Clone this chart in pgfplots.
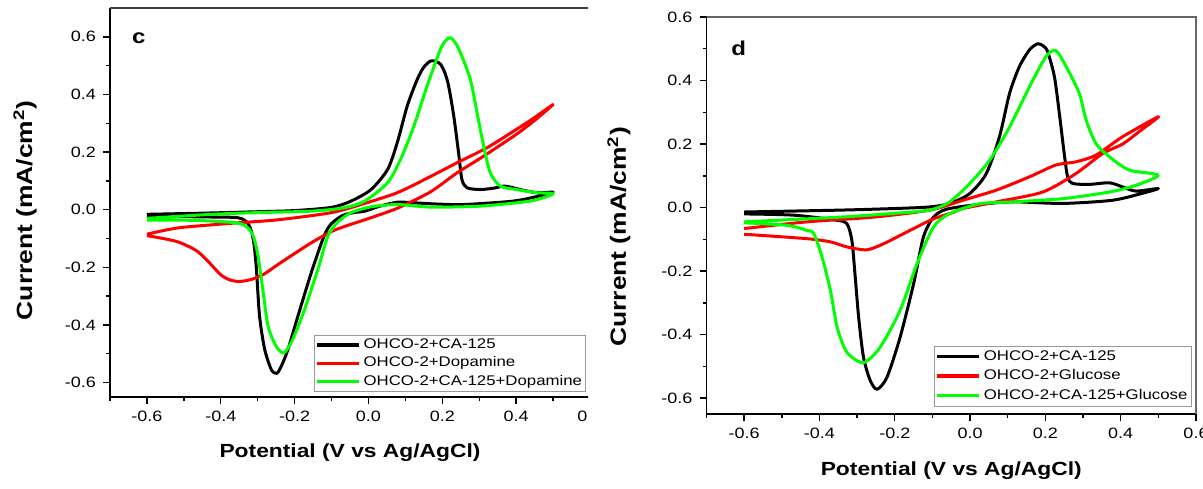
\documentclass[border=0pt]{standalone}
\usepackage{fontspec}
\setmainfont{Liberation Sans}[FakeStretch=1.2]
\usepackage{pgfplots}
\pgfplotsset{compat=1.18}

\definecolor{cvred}{RGB}{255,0,0}
\definecolor{cvgreen}{RGB}{0,255,0}

\pgfplotsset{
  cv/.style={
    scale only axis,
    xmin=-0.7, xmax=0.6, ymin=-0.65,
    axis x line*=bottom, axis y line*=left,
    axis line style={line width=0.9pt},
    tick align=outside,
    tick style={black, line width=0.7pt},
    major tick length=3.5pt, minor tick length=2pt,
    xtick={-0.6,-0.4,-0.2,0,0.2,0.4,0.6},
    xticklabels={-0.6,-0.4,-0.2,0.0,0.2,0.4,0.6},
    minor xtick={-0.7,-0.5,-0.3,-0.1,0.1,0.3,0.5},
    ytick={-0.6,-0.4,-0.2,0,0.2,0.4,0.6},
    yticklabels={-0.6,-0.4,-0.2,0.0,0.2,0.4,0.6},
    minor ytick={-0.5,-0.3,-0.1,0.1,0.3,0.5},
    ticklabel style={font=\fontsize{7.5}{9}\selectfont},
    xlabel={Potential (V vs Ag/AgCl)},
    ylabel={Current (mA/cm\textsuperscript{2})},
    xlabel style={font=\bfseries\fontsize{9.5}{11}\selectfont, at={(axis description cs:0.5,-0.143)}, anchor=center},
    legend style={at={(axis description cs:0.992,0.012)}, anchor=south east,
      draw=gray!80, line width=0.5pt, font=\fontsize{7}{8}\selectfont,
      inner sep=0.5pt, nodes={inner sep=1.3pt}},
    legend cell align=left,
    legend image code/.code={\draw[#1, line width=1.7pt] (-1pt,0pt) -- (20pt,0pt);},
    every axis plot/.append style={line width=1.5pt, line join=round, smooth, tension=0.45},
  }
}

\begin{document}
\begin{tikzpicture}
\useasboundingbox (0,0) rectangle (601.5pt,244pt);

% ---- panel c ----
\begin{scope}
\clip (0,0) rectangle (294pt,244pt);
\begin{axis}[cv,
  at={(55pt,45.5pt)}, anchor=south west,
  width=240pt, height=194.5pt,
  ymax=0.7,
  ylabel style={font=\bfseries\fontsize{11}{13}\selectfont, at={(axis description cs:-0.177,0.48)}, anchor=center},
]
\addplot[black] coordinates {
(-0.6,-0.016) (-0.45,-0.012) (-0.3,-0.007) (-0.2,-0.003) (-0.1,0.008) (-0.047,0.03)
(0.007,0.07) (0.052,0.14) (0.078,0.233) (0.105,0.36) (0.132,0.452) (0.15,0.495)
(0.168,0.516) (0.182,0.515) (0.195,0.505) (0.207,0.475) (0.217,0.43) (0.231,0.325)
(0.244,0.198) (0.253,0.105) (0.267,0.076) (0.303,0.07) (0.34,0.075) (0.366,0.082)
(0.39,0.077) (0.411,0.07) (0.456,0.059) (0.5,0.061)
(0.47,0.05) (0.393,0.03) (0.258,0.018) (0.18,0.02) (0.123,0.024) (0.078,0.026)
(0.03,0.012) (-0.01,-0.005) (-0.04,-0.01) (-0.07,-0.02) (-0.1,-0.048) (-0.12,-0.09)
(-0.155,-0.219) (-0.191,-0.369) (-0.218,-0.485) (-0.235,-0.54) (-0.248,-0.568)
(-0.263,-0.555) (-0.281,-0.485) (-0.295,-0.369) (-0.304,-0.196) (-0.312,-0.103)
(-0.325,-0.05) (-0.353,-0.028) (-0.45,-0.025) (-0.6,-0.022)
};
\addlegendentry{OHCO-2+CA-125}
\addplot[cvred] coordinates {
(-0.6,-0.085) (-0.515,-0.063) (-0.38,-0.048) (-0.245,-0.035) (-0.1,-0.01) (-0.01,0.022)
(0.078,0.059) (0.16,0.11) (0.24,0.163) (0.321,0.215) (0.401,0.279) (0.45,0.32) (0.5,0.365)
(0.45,0.31) (0.401,0.262) (0.312,0.186) (0.24,0.128) (0.168,0.062) (0.078,0.005)
(-0.01,-0.035) (-0.06,-0.056) (-0.101,-0.076) (-0.155,-0.115) (-0.2,-0.152) (-0.245,-0.19)
(-0.285,-0.225) (-0.32,-0.243) (-0.35,-0.249) (-0.375,-0.244) (-0.4,-0.226)
(-0.43,-0.185) (-0.465,-0.143) (-0.52,-0.11) (-0.6,-0.09)
};
\addlegendentry{OHCO-2+Dopamine}
\addplot[cvgreen] coordinates {
(-0.6,-0.03) (-0.425,-0.016) (-0.3,-0.01) (-0.155,-0.005) (-0.066,0.007) (-0.01,0.03)
(0.052,0.094) (0.087,0.175) (0.123,0.29) (0.159,0.43) (0.195,0.557) (0.21,0.588)
(0.222,0.597) (0.235,0.58) (0.249,0.545) (0.276,0.452) (0.294,0.337) (0.312,0.221)
(0.33,0.128) (0.357,0.082) (0.401,0.07) (0.456,0.059) (0.5,0.055)
(0.438,0.03) (0.303,0.0125) (0.168,0.009) (0.078,0.018) (0.007,0.01) (-0.047,-0.01)
(-0.083,-0.043) (-0.11,-0.092) (-0.137,-0.207) (-0.173,-0.346) (-0.205,-0.45)
(-0.229,-0.497) (-0.25,-0.474) (-0.272,-0.404) (-0.285,-0.288) (-0.299,-0.161)
(-0.312,-0.092) (-0.33,-0.059) (-0.362,-0.045) (-0.47,-0.037) (-0.6,-0.036)
};
\addlegendentry{OHCO-2+CA-125+Dopamine}
\node[font=\bfseries\fontsize{10}{12}\selectfont] at (axis description cs:0.06,0.923) {c};
\end{axis}
\draw[black!75, line width=0.6pt] (current axis.north west) -- (current axis.north east);
\end{scope}

% ---- panel d ----
\begin{scope}
\clip (300.75pt,0) rectangle (601.5pt,244pt);
\begin{axis}[cv,
  at={(353.25pt,37pt)}, anchor=south west,
  width=244.75pt, height=198.5pt,
  ymax=0.6,
  ylabel style={font=\bfseries\fontsize{11}{13}\selectfont, at={(axis description cs:-0.179,0.446)}, anchor=center},
  legend style={at={(axis description cs:0.992,0.018)}, nodes={inner sep=1.6pt}},
]
\addplot[black] coordinates {
(-0.6,-0.014) (-0.344,-0.008) (-0.2,-0.003) (-0.107,0.002) (-0.054,0.013) (-0.001,0.044)
(0.043,0.107) (0.078,0.223) (0.105,0.36) (0.131,0.444) (0.158,0.497) (0.18,0.516)
(0.195,0.508) (0.206,0.491) (0.224,0.412) (0.237,0.297) (0.25,0.17) (0.259,0.097)
(0.272,0.076) (0.317,0.073) (0.37,0.078) (0.405,0.065) (0.44,0.052) (0.5,0.06)
(0.458,0.045) (0.378,0.023) (0.246,0.013) (0.114,0.018) (0.025,0.01) (-0.062,-0.005)
(-0.097,-0.03) (-0.124,-0.093) (-0.15,-0.24) (-0.186,-0.409) (-0.221,-0.535)
(-0.247,-0.572) (-0.265,-0.545) (-0.283,-0.472) (-0.296,-0.345) (-0.305,-0.219)
(-0.314,-0.103) (-0.327,-0.051) (-0.353,-0.04) (-0.468,-0.024) (-0.6,-0.02)
};
\addlegendentry{OHCO-2+CA-125}
\addplot[cvred] coordinates {
(-0.6,-0.066) (-0.433,-0.045) (-0.256,-0.03) (-0.107,-0.008) (-0.019,0.023) (0.07,0.055)
(0.158,0.097) (0.228,0.134) (0.281,0.144) (0.334,0.165) (0.405,0.223) (0.5,0.286)
(0.45,0.24) (0.405,0.2) (0.352,0.17) (0.281,0.107) (0.193,0.049) (0.07,0.018)
(-0.019,-0.003) (-0.044,-0.015) (-0.1,-0.037) (-0.168,-0.077) (-0.23,-0.114)
(-0.274,-0.133) (-0.327,-0.124) (-0.371,-0.108) (-0.433,-0.098) (-0.6,-0.084)
};
\addlegendentry{OHCO-2+Glucose}
\addplot[cvgreen] coordinates {
(-0.6,-0.045) (-0.344,-0.03) (-0.2,-0.018) (-0.107,-0.008) (-0.054,0.018) (-0.001,0.076)
(0.052,0.149) (0.105,0.254) (0.158,0.381) (0.202,0.476) (0.228,0.494) (0.255,0.444)
(0.29,0.36) (0.308,0.276) (0.334,0.202) (0.37,0.16) (0.423,0.118) (0.5,0.102)
(0.44,0.07) (0.37,0.049) (0.246,0.028) (0.114,0.018) (0.025,0.012) (-0.054,-0.019)
(-0.097,-0.061) (-0.141,-0.177) (-0.186,-0.324) (-0.239,-0.44) (-0.283,-0.488)
(-0.327,-0.456) (-0.353,-0.377) (-0.371,-0.261) (-0.393,-0.156) (-0.415,-0.082)
(-0.433,-0.072) (-0.486,-0.056) (-0.6,-0.048)
};
\addlegendentry{OHCO-2+CA-125+Glucose}
\node[font=\bfseries\fontsize{10}{12}\selectfont] at (axis description cs:0.066,0.922) {d};
\end{axis}
\draw[black!60, line width=0.6pt] (current axis.north west) -- (current axis.north east) -- (current axis.south east);
\end{scope}
\end{tikzpicture}
\end{document}
